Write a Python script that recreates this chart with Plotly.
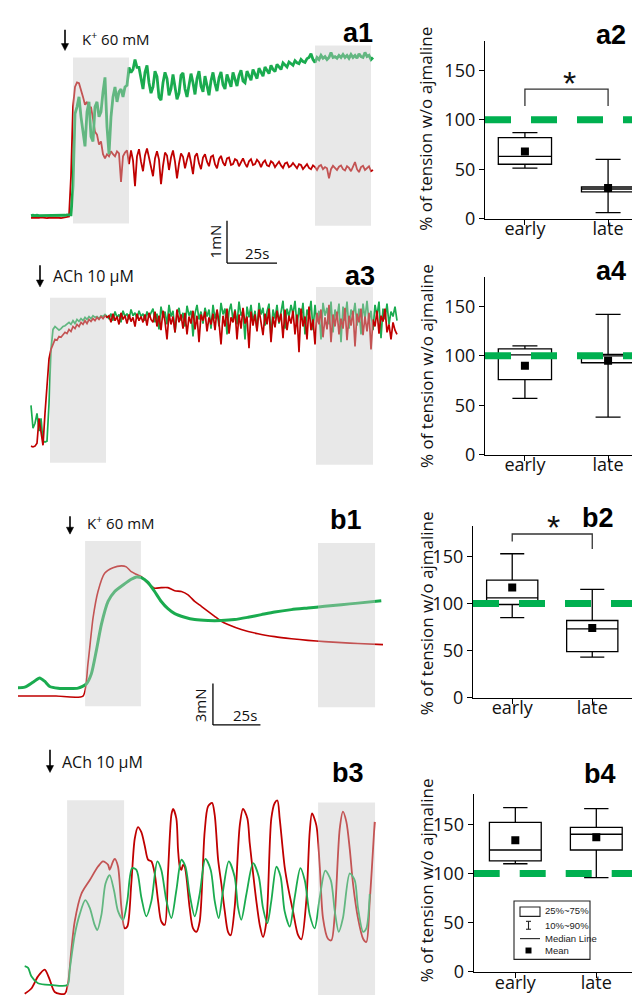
import numpy as np
import plotly.graph_objects as go

W, H = 640, 998
RED = "#c00000"
GREEN = "#1aab4f"
REF_GREEN = "#00b050"
FONT = "Open Sans"
BOLD_FONT = "Liberation Sans"

# ---------------- data: force traces (mN) ----------------
DT = 1.0  # s, sampling of the digitised a1 / a3 traces

A1_GREEN = [
    0.00, 0.01, 0.00, 0.01, 0.00, 0.00, 0.01, 0.00, 0.01, 0.00,
    0.00, 0.01, 0.00, 0.01, 0.00, 0.01, 0.00, 0.01, 0.02, 0.02,
    0.02, 0.71, 2.45, 2.62, 2.86, 2.38, 2.02, 1.67, 2.50, 2.74,
    1.90, 1.79, 2.62, 2.74, 2.38, 2.50, 2.98, 3.33, 2.14, 1.48,
    2.38, 2.86, 3.10, 2.74, 2.98, 3.05, 2.86, 3.10, 3.14, 3.57,
    3.45, 3.52, 3.76, 3.57,
    3.57, 3.30, 3.05, 3.45, 3.62, 3.20, 2.95, 3.10, 3.48, 3.35,
    2.85, 2.78, 3.20, 3.45, 3.30, 2.90, 3.05, 3.40, 3.10, 2.80,
    2.95, 3.38, 3.44, 3.05, 2.86, 3.15, 3.42, 3.20, 2.92, 3.30,
    3.48, 3.12, 2.98, 3.36, 3.10, 2.90, 3.25, 3.45, 3.18, 3.00,
    3.32, 3.46, 3.15, 3.05, 3.40, 3.22, 3.10, 3.45, 3.30, 3.12,
    3.38, 3.50, 3.24, 3.20, 3.48, 3.35, 3.26, 3.52, 3.40, 3.30,
    3.55, 3.44, 3.36, 3.58, 3.50, 3.42, 3.62, 3.52, 3.47, 3.64,
    3.58, 3.52, 3.68, 3.62, 3.58, 3.70, 3.66, 3.62, 3.73, 3.68,
    3.66, 3.76, 3.71, 3.69, 3.78, 3.81,
    3.90, 3.76, 3.69, 3.81, 3.76, 3.86, 3.79, 3.83, 3.76, 3.81,
    3.93, 3.81, 3.83, 3.79, 3.86, 3.81, 3.88, 3.81, 3.86, 3.79,
    3.88, 3.81, 3.86, 3.79, 3.90, 3.83, 3.81, 3.93, 3.83, 3.86,
    3.76, 3.81]

A1_RED = [
    -0.05, -0.05, -0.06, -0.05, -0.05, -0.04, -0.05, -0.05, -0.06, -0.05,
    -0.05, -0.05, -0.04, -0.05, -0.05, -0.06, -0.05, -0.05, -0.04, -0.02,
    0.95, 2.62, 3.10, 3.21, 3.19, 3.05, 2.86, 2.67, 2.74, 2.57,
    2.62, 2.33, 2.02, 1.95, 1.71, 1.79, 1.48, 1.38, 1.48, 1.43,
    1.55, 1.48, 1.43, 1.55, 1.50, 0.81, 1.43, 1.52, 1.57, 1.24,
    1.57, 1.33, 0.71,
    1.43, 1.60, 1.30, 1.07, 1.45, 1.62, 1.40, 1.19, 0.95, 1.38,
    1.55, 1.35, 0.76, 1.20, 1.52, 1.45, 1.10, 1.40, 1.57, 1.30,
    0.90, 1.25, 1.50, 1.42, 1.14, 1.35, 1.52, 1.28, 1.00, 1.43,
    1.50, 1.26, 1.12, 1.40, 1.48, 1.30, 1.19, 1.42, 1.45, 1.24,
    1.14, 1.36, 1.44, 1.28, 1.20, 1.38, 1.40, 1.22, 1.24, 1.36,
    1.33, 1.19, 1.30, 1.38, 1.26, 1.17, 1.31, 1.36, 1.22, 1.24,
    1.35, 1.29, 1.17, 1.28, 1.33, 1.21, 1.19, 1.31, 1.27, 1.17,
    1.24, 1.30, 1.21, 1.15, 1.26, 1.28, 1.17, 1.20, 1.27, 1.19,
    1.14, 1.24, 1.22, 1.12, 1.19, 1.24, 1.15, 1.12, 1.21, 1.17,
    1.10, 1.19, 1.22, 1.12, 1.17, 1.14, 0.90, 1.12, 1.20, 1.16,
    1.10, 1.18, 1.21, 1.12, 1.09, 1.19, 1.15, 1.07, 1.17, 1.29,
    1.12, 1.05, 1.17, 1.20, 1.10, 1.14, 1.19, 1.07, 1.10]

A3_RED = [
    0.00, -0.02, 0.00, 0.07, 0.67, 0.31, 0.02, 0.79, 1.50, 2.10,
    2.33, 2.45, 2.57, 2.55, 2.64, 2.62, 2.69, 2.74, 2.71, 2.81,
    2.76, 2.88, 2.83, 2.93, 2.88, 2.98, 2.93, 3.02, 2.95, 3.05,
    3.00, 3.07, 3.02, 3.10, 3.05, 3.12, 3.07, 3.14, 3.10,
    3.14, 2.98, 3.19, 3.02, 3.12, 2.93, 3.21, 3.05, 3.14, 2.95,
    3.17, 3.00, 3.10, 2.88, 3.19, 3.02, 3.12, 2.98, 3.17, 2.90,
    3.21, 3.05,
    2.98, 3.24, 2.88, 3.14, 2.79, 3.26, 3.00, 2.57, 3.19, 2.93,
    3.12, 2.74, 3.29, 2.98, 3.17, 2.83, 3.21, 2.69, 3.12, 2.95,
    3.26, 2.81, 3.14, 2.50, 3.17, 3.02, 3.24, 2.76, 3.10, 2.93,
    3.19, 2.79, 3.29, 2.98, 2.45, 3.14, 2.88, 3.31, 2.71, 3.10,
    2.98, 3.26, 2.57, 3.17, 2.83, 3.33, 2.95, 3.12, 2.36, 3.24,
    2.90, 3.17, 2.76, 3.29, 3.00, 2.67, 3.19, 2.93, 3.31, 2.50,
    3.12, 2.86, 3.26, 2.98, 3.19, 2.60, 3.29, 2.79, 3.14, 2.95,
    3.26, 2.69, 3.17, 2.26, 3.31, 2.88, 3.12, 2.57, 3.36, 2.79,
    3.05, 2.45, 3.21, 2.93, 3.29, 2.62, 3.10, 2.81, 3.40, 2.50,
    3.17, 2.88, 3.24, 2.69, 3.07, 2.83, 3.33, 2.55, 3.14, 2.90,
    3.26, 2.40, 3.19, 2.98, 3.31, 2.67, 3.12, 2.76, 3.21, 2.33,
    3.05, 2.88, 3.26, 2.71, 3.14, 3.00, 3.31, 2.74, 2.93, 2.57,
    2.98, 2.79, 2.69]

A3_GREEN = [
    0.98, 0.43, 0.55, 0.79, 0.36, 0.67, 0.12, 0.10, 0.12, 1.02,
    2.33, 2.81, 2.88, 2.83, 2.79, 2.83, 2.88, 2.90, 2.93, 2.98,
    2.93, 3.02, 2.95, 3.05, 3.00, 3.07, 3.02, 3.10, 3.05, 3.12,
    3.07, 3.14, 3.10, 3.12, 3.07, 3.14, 3.12, 3.17, 3.12,
    3.07, 3.19, 3.02, 3.24, 3.10, 3.17, 2.98, 3.26, 3.12, 3.19,
    3.05, 3.29, 3.14, 3.21, 3.07, 3.26, 3.12, 3.19, 3.02, 3.24,
    3.10, 3.21,
    3.31, 2.98, 3.19, 2.81, 3.36, 3.10, 3.24, 2.93, 3.40, 3.12,
    3.26, 2.74, 3.17, 3.33, 3.02, 3.21, 2.88, 3.38, 3.14, 3.26,
    2.64, 3.19, 3.40, 3.05, 3.24, 2.95, 3.33, 3.12, 3.29, 2.83,
    3.40, 3.07, 3.26, 2.88, 3.45, 3.17, 3.31, 2.69, 3.24, 3.43,
    3.02, 3.29, 2.93, 3.48, 3.14, 3.26, 2.57, 3.36, 3.10, 3.40,
    2.98, 3.26, 2.79, 3.45, 3.17, 3.33, 2.90, 3.24, 3.43, 2.62,
    3.29, 3.07, 3.40, 2.95, 3.21, 3.50, 2.83, 3.31, 3.12, 3.40,
    3.17, 3.50, 2.88, 3.33, 3.05, 3.45, 2.69, 3.29, 3.12, 3.50,
    2.79, 3.40, 2.98, 3.26, 2.57, 3.45, 3.14, 3.33, 2.93, 3.48,
    2.74, 3.29, 3.07, 3.43, 2.50, 3.36, 3.02, 3.48, 2.83, 3.29,
    3.12, 3.45, 2.90, 3.31, 2.69, 3.43, 3.07, 3.50, 2.98, 3.26,
    2.79, 3.40, 3.14, 3.48, 2.60, 3.31, 3.05, 3.43, 2.93, 3.24,
    3.12, 3.36, 3.02]

B1_RED_T = [0, 20.0, 34.2, 36.8, 39.5, 42.1, 45.6, 50.0, 54.4, 57.0, 59.6,
            62.3, 64.9, 68.4, 71.9, 75.4, 78.9, 82.5, 86.0, 89.5, 93.0,
            96.5, 100.0, 103.5, 107.0, 110.5, 117.5, 126.3, 135.1, 143.9,
            152.6, 161.4, 170.2, 178.9, 192.1]
B1_RED = [0.00, 0.00, 0.00, 2.31, 5.64, 7.55, 8.86, 9.26, 9.40, 9.33, 8.98,
          8.79, 8.62, 8.14, 7.79, 7.83, 7.83, 7.60, 7.55, 7.31, 6.83,
          6.48, 6.12, 5.76, 5.40, 5.17, 4.81, 4.50, 4.29, 4.14,
          4.02, 3.93, 3.86, 3.79, 3.71]
B1_GREEN_T = [0, 3.5, 7.9, 11.4, 14.0, 16.7, 21.1, 31.6, 36.0, 38.6,
              41.2, 43.9, 47.4, 50.9, 55.3, 59.6, 62.3, 64.9, 68.4, 71.9,
              75.4, 78.9, 82.5, 87.7, 93.0, 100.0, 107.0, 114.0, 121.1, 128.1,
              135.1, 143.9, 152.6, 161.4, 170.2, 178.9, 191.2]
B1_GREEN = [0.60, 0.64, 1.00, 1.31, 1.07, 0.69, 0.57, 0.57, 0.88, 1.60,
            3.26, 5.17, 6.83, 7.55, 8.02, 8.43, 8.60, 8.55, 8.21, 7.55,
            6.83, 6.31, 5.95, 5.69, 5.52, 5.45, 5.45, 5.52, 5.69, 5.88,
            6.07, 6.24, 6.36, 6.48, 6.60, 6.71, 6.88]

B3_RED_T = [0, 3.5, 7.0, 10.5, 13.2, 15.8, 21.1, 22.8, 24.6, 26.3,
            29.8, 34.2, 38.6, 41.2, 43.9, 44.7, 46.5, 47.4, 49.1, 50.9,
            52.6, 54.0, 56.1, 57.9, 59.6, 61.4, 63.2, 64.9, 66.7, 68.4,
            70.2, 71.9, 73.7, 75.4, 77.2, 78.1, 79.8, 80.7, 81.6, 82.5,
            83.3, 84.2, 86.8, 88.6, 90.4, 92.1, 94.7, 96.5, 98.6, 100.0,
            101.8, 103.5, 105.3, 107.0, 108.4, 110.5, 113.2, 114.9, 117.2, 118.4,
            120.2, 121.9, 123.7, 125.4, 127.2, 129.8, 131.6, 133.0, 134.2, 136.8,
            138.6, 141.2, 143.9, 145.6, 148.2, 150.0, 151.2, 153.5, 155.3, 157.0,
            159.6, 161.4, 163.2, 165.8, 167.5, 169.3, 171.1, 172.8, 175.4, 178.1,
            179.8, 181.6, 184.2]
B3_RED = [-0.60, -0.24, 0.60, 1.07, 0.36, -0.48, -0.60, 0.12, 2.50, 4.40,
          6.31, 7.26, 8.21, 8.57, 8.33, 7.98, 8.57, 8.74, 8.21, 5.36,
          3.93, 4.05, 7.02, 10.12, 10.95, 10.60, 9.64, 8.69, 8.57, 7.74,
          5.83, 4.40, 4.17, 7.74, 11.79, 12.21, 11.55, 9.40, 8.21, 7.98,
          8.33, 8.21, 5.36, 3.93, 3.69, 4.40, 10.60, 12.38, 12.62, 11.79,
          8.69, 7.02, 5.12, 3.69, 3.45, 5.36, 11.07, 12.21, 11.55, 9.88,
          7.74, 5.83, 4.17, 3.33, 4.40, 11.55, 12.62, 12.79, 11.55, 8.21,
          6.79, 5.12, 3.45, 3.17, 5.83, 10.60, 11.90, 11.07, 8.21, 4.64,
          3.21, 3.10, 4.88, 10.83, 12.02, 11.31, 9.40, 7.02, 4.64, 3.21,
          2.98, 5.83, 11.31]
B3_GREEN_T = [0, 1.8, 3.5, 7.0, 14.0, 22.5, 23.7, 26.3, 28.9, 31.9,
              34.2, 36.8, 38.2, 40.4, 42.5, 44.7, 47.0, 49.1, 51.8, 54.0,
              56.5, 58.8, 61.4, 64.0, 66.7, 69.8, 71.9, 74.6, 77.2, 79.8,
              82.5, 84.6, 86.8, 89.5, 92.1, 95.1, 97.9, 100.0, 102.1, 104.4,
              107.4, 110.5, 112.3, 114.0, 116.7, 120.2, 123.2, 125.4, 127.7, 129.8,
              132.5, 134.7, 136.8, 139.5, 142.1, 145.1, 147.4, 150.0, 152.6, 155.3,
              158.2, 161.1, 163.2, 165.3, 167.5, 171.1, 173.7, 175.4, 178.1, 179.8,
              181.6]
B3_GREEN = [1.31, 1.19, 0.60, 0.12, 0.00, 0.00, 1.07, 3.45, 4.88, 5.88,
            5.36, 4.17, 3.81, 4.88, 7.02, 7.62, 6.55, 5.12, 4.52, 5.83,
            8.10, 7.98, 6.07, 4.76, 5.83, 8.57, 7.98, 5.83, 4.64, 6.55,
            8.69, 8.21, 6.31, 4.76, 6.31, 8.74, 7.98, 5.83, 4.64, 6.55,
            8.57, 7.50, 5.36, 4.52, 6.31, 8.45, 7.50, 5.36, 4.29, 5.83,
            8.21, 7.50, 5.12, 4.05, 6.07, 8.10, 7.26, 4.88, 3.93, 6.07,
            7.93, 7.26, 5.12, 3.69, 4.64, 7.74, 7.26, 5.36, 3.69, 3.93,
            6.31]

# ---------------- data: box statistics (% of tension w/o ajmaline) ----------------
CATS = ["early", "late"]
REF_LEVEL = 100
Y_TICKS = [0, 50, 100, 150]

A2_LO, A2_Q1, A2_MED, A2_Q3, A2_HI, A2_MEAN = [51, 6], [55, 27], [63, 30], [82, 32], [87, 60], [68, 31]
A4_LO, A4_Q1, A4_MED, A4_Q3, A4_HI, A4_MEAN = [57, 38], [76, 93], [101, 100], [107, 101.5], [110, 142], [90, 95]
B2_LO, B2_Q1, B2_MED, B2_Q3, B2_HI, B2_MEAN = [85, 43], [99, 49], [106, 73], [125, 82], [153, 115], [117, 74]
B4_LO, B4_Q1, B4_MED, B4_Q3, B4_HI, B4_MEAN = [110, 96], [113, 124], [124, 140], [152, 147], [167, 166], [134, 137]

LEGEND_ITEMS = ["25%~75%", "10%~90%", "Median Line", "Mean"]


def PX(x):
    return x / W


def PY(y):
    return 1 - y / H


fig = go.Figure()

# ---------------- left panels: traces ----------------
fig.add_trace(go.Scatter(x=np.arange(len(A1_RED)) * DT, y=A1_RED, mode="lines",
                         line=dict(color=RED, width=1.8), xaxis="x", yaxis="y"))
fig.add_trace(go.Scatter(x=np.arange(len(A1_GREEN)) * DT, y=A1_GREEN, mode="lines",
                         line=dict(color=GREEN, width=2.8), xaxis="x", yaxis="y"))

fig.add_trace(go.Scatter(x=np.arange(len(A3_GREEN)) * DT, y=A3_GREEN, mode="lines",
                         line=dict(color=GREEN, width=1.7), xaxis="x3", yaxis="y3"))
fig.add_trace(go.Scatter(x=np.arange(len(A3_RED)) * DT, y=A3_RED, mode="lines",
                         line=dict(color=RED, width=1.7), xaxis="x3", yaxis="y3"))

fig.add_trace(go.Scatter(x=B1_RED_T, y=B1_RED, mode="lines",
                         line=dict(color=RED, width=1.6, shape="spline", smoothing=0.6),
                         xaxis="x5", yaxis="y5"))
fig.add_trace(go.Scatter(x=B1_GREEN_T, y=B1_GREEN, mode="lines",
                         line=dict(color=GREEN, width=3, shape="spline", smoothing=0.6),
                         xaxis="x5", yaxis="y5"))

fig.add_trace(go.Scatter(x=B3_RED_T, y=B3_RED, mode="lines",
                         line=dict(color=RED, width=1.8, shape="spline", smoothing=0.8),
                         xaxis="x7", yaxis="y7"))
fig.add_trace(go.Scatter(x=B3_GREEN_T, y=B3_GREEN, mode="lines",
                         line=dict(color=GREEN, width=1.8, shape="spline", smoothing=0.8),
                         xaxis="x7", yaxis="y7"))

# ---------------- right panels: box plots ----------------
box_sets = [
    ("x2", "y2", A2_LO, A2_Q1, A2_MED, A2_Q3, A2_HI, A2_MEAN, (-0.48, 1.48)),
    ("x4", "y4", A4_LO, A4_Q1, A4_MED, A4_Q3, A4_HI, A4_MEAN, (-0.48, 1.48)),
    ("x6", "y6", B2_LO, B2_Q1, B2_MED, B2_Q3, B2_HI, B2_MEAN, (-0.49, 1.534)),
    ("x8", "y8", B4_LO, B4_Q1, B4_MED, B4_Q3, B4_HI, B4_MEAN, (-0.514, 1.515)),
]
for xa, ya, lo, q1, med, q3, hi, mean, xr in box_sets:
    fig.add_trace(go.Box(x=[0, 1], lowerfence=lo, q1=q1, median=med, q3=q3, upperfence=hi,
                         width=0.64, whiskerwidth=0.47, fillcolor="white", boxpoints=False,
                         line=dict(color="black", width=1.3), xaxis=xa, yaxis=ya))
    fig.add_trace(go.Scatter(x=list(xr), y=[REF_LEVEL, REF_LEVEL], mode="lines",
                             line=dict(color=REF_GREEN, width=7, dash="26px,20px"),
                             xaxis=xa, yaxis=ya, cliponaxis=False))
    fig.add_trace(go.Scatter(x=[0, 1], y=mean, mode="markers",
                             marker=dict(symbol="square", size=8, color="black"),
                             xaxis=xa, yaxis=ya))

# significance brackets
fig.add_trace(go.Scatter(x=[0, 0, 1, 1], y=[114, 131, 131, 114], mode="lines",
                         line=dict(color="#333", width=1.3), xaxis="x2", yaxis="y2"))
fig.add_trace(go.Scatter(x=[0, 0, 1, 1], y=[166, 174, 174, 158], mode="lines",
                         line=dict(color="#333", width=1.3), xaxis="x6", yaxis="y6", cliponaxis=False))

# ---------------- axes ----------------
hidden = dict(visible=False, showgrid=False, zeroline=False)
layout = dict(
    width=W, height=H, margin=dict(l=0, r=0, t=0, b=0),
    paper_bgcolor="white", plot_bgcolor="rgba(0,0,0,0)", showlegend=False,
    font=dict(family=FONT, color="#111"),
    xaxis=dict(domain=[0, PX(400)], range=[-11.5, 188.5], **hidden),
    yaxis=dict(domain=[PY(262), PY(0)], range=[-1.238, 5.0], **hidden),
    xaxis3=dict(domain=[0, PX(400)], range=[-11.5, 188.5], anchor="y3", **hidden),
    yaxis3=dict(domain=[PY(480), PY(262)], range=[-0.881, 4.31], anchor="x3", **hidden),
    xaxis5=dict(domain=[0, PX(400)], range=[-5.263, 205.263], anchor="y5", **hidden),
    yaxis5=dict(domain=[PY(750), PY(490)], range=[-3.879, 14.693], anchor="x5", **hidden),
    xaxis7=dict(domain=[0, PX(400)], range=[-8.789, 201.737], anchor="y7", **hidden),
    yaxis7=dict(domain=[PY(998), PY(750)], range=[-0.693, 16.31], anchor="x7", **hidden),
)


def box_axes(n, xdom, ydom, xr, yr):
    layout[f"xaxis{n}"] = dict(domain=[PX(xdom[0]), PX(xdom[1])], range=list(xr), anchor=f"y{n}",
                               tickvals=[0, 1], ticktext=CATS, showline=True, linecolor="black",
                               linewidth=1.3, ticks="outside", ticklen=5, tickcolor="black",
                               ticklabelstandoff=-11,
                               tickfont=dict(size=18, family=FONT, color="#111"),
                               showgrid=False, zeroline=False)
    layout[f"yaxis{n}"] = dict(domain=[PY(ydom[1]), PY(ydom[0])], range=list(yr), anchor=f"x{n}",
                               tickvals=Y_TICKS, showline=True, linecolor="black", linewidth=1.3,
                               ticks="outside", ticklen=5, tickcolor="black",
                               tickfont=dict(size=18, family=FONT, color="#111"),
                               showgrid=False, zeroline=False)


box_axes(2, (477, 640), (33, 213), (-0.48, 1.48), (0, 180))
box_axes(4, (477, 640), (271.7, 451.7), (-0.48, 1.48), (0, 180))
box_axes(6, (465, 627), (523.3, 697.3), (-0.49, 1.534), (0, 183))
box_axes(8, (465.7, 630), (794.7, 974.7), (-0.514, 1.515), (0, 181))

# ---------------- shapes: gray windows, scale bars, arrows, legend ----------------
GRAY = "rgba(200,200,200,0.42)"
shapes = []


def win(xref, yref, x0, x1, y0, y1):
    shapes.append(dict(type="rect", xref=xref, yref=yref, x0=x0, x1=x1, y0=y0, y1=y1,
                       fillcolor=GRAY, line=dict(width=0), layer="above"))


win("x", "y", 21, 49, -0.19, 3.81)
win("x", "y", 142, 170, -0.24, 4.10)
win("x3", "y3", 9.5, 37.5, -0.40, 3.57)
win("x3", "y3", 142.5, 171, -0.45, 3.83)
win("x5", "y5", 35.3, 64.7, -0.74, 11.19)
win("x5", "y5", 157.9, 187.9, -0.81, 11.05)
win("x7", "y7", 22.3, 52.3, -0.69, 12.81)
win("x7", "y7", 154.4, 184.4, -0.69, 12.66)

bar = dict(color="black", width=1.3)
shapes += [
    dict(type="line", xref="x", yref="y", x0=98, x1=98, y0=-0.12, y1=-1.14, line=bar),
    dict(type="line", xref="x", yref="y", x0=98, x1=123, y0=-1.14, y1=-1.14, line=bar),
    dict(type="line", xref="x5", yref="y5", x0=102.6, x1=102.6, y0=0.91, y1=-2.09, line=bar),
    dict(type="line", xref="x5", yref="y5", x0=102.6, x1=127.6, y0=-2.09, y1=-2.09, line=bar),
]


def arrow(x, ytip, ytail):
    shapes.append(dict(type="line", xref="paper", yref="paper", x0=PX(x), x1=PX(x),
                       y0=PY(ytail), y1=PY(ytip - 5), line=dict(color="black", width=1.6)))
    shapes.append(dict(type="path", xref="paper", yref="paper",
                       path=f"M {PX(x - 3.6)},{PY(ytip - 7)} L {PX(x + 3.6)},{PY(ytip - 7)} L {PX(x)},{PY(ytip)} Z",
                       fillcolor="black", line=dict(color="black", width=0.5)))


arrow(57, 43, 22)
arrow(32, 282, 260)
arrow(62, 532, 514)
arrow(42, 773, 750)

# legend box (b4)
lg = dict(color="#222", width=1.1)
shapes += [
    dict(type="rect", xref="paper", yref="paper", x0=PX(506), x1=PX(582), y0=PY(962), y1=PY(903), line=lg, fillcolor="white"),
    dict(type="rect", xref="paper", yref="paper", x0=PX(512), x1=PX(532), y0=PY(918.5), y1=PY(909), line=lg),
    dict(type="line", xref="paper", yref="paper", x0=PX(520.5), x1=PX(520.5), y0=PY(931.5), y1=PY(923.5), line=lg),
    dict(type="line", xref="paper", yref="paper", x0=PX(518), x1=PX(523), y0=PY(931.5), y1=PY(931.5), line=lg),
    dict(type="line", xref="paper", yref="paper", x0=PX(518), x1=PX(523), y0=PY(923.5), y1=PY(923.5), line=lg),
    dict(type="line", xref="paper", yref="paper", x0=PX(512), x1=PX(532), y0=PY(941), y1=PY(941), line=lg),
    dict(type="rect", xref="paper", yref="paper", x0=PX(517.5), x1=PX(523.5), y0=PY(956), y1=PY(950), line=dict(width=0), fillcolor="black"),
]

# ---------------- annotations ----------------
ann = []


def txt(x, y, s, size, bold=False, xanchor="center", angle=0, family=None, color="#111"):
    ann.append(dict(xref="paper", yref="paper", x=PX(x), y=PY(y), text=s, showarrow=False,
                    xanchor=xanchor, yanchor="middle", textangle=angle,
                    font=dict(size=size, family=family or (BOLD_FONT if bold else FONT), color=color)))


for lab, x, y in [("a1", 350, 25), ("a2", 603, 27), ("a3", 352, 271), ("a4", 603, 266),
                  ("b1", 338, 518), ("b2", 590, 516), ("b3", 340, 774), ("b4", 592, 775)]:
    txt(x, y, f"<b>{lab}</b>", 27, bold=True, color="black")

txt(72, 31, "K<sup>+</sup> 60 mM", 15, xanchor="left")
txt(43, 271, "ACh 10 μM", 16, xanchor="left")
txt(77, 520, "K<sup>+</sup> 60 mM", 15, xanchor="left")
txt(52, 762, "ACh 10 μM", 16, xanchor="left")

txt(207, 236, "1mN", 15, angle=-90)
txt(249, 248, "25s", 15)
txt(192, 705, "3mN", 15, angle=-90)
txt(237, 715, "25s", 15)

for yc in [122, 362, 612, 882]:
    txt(418, yc, "% of tension w/o ajmaline", 17, angle=-90)

# asterisks
txt(561, 76, "*", 34, bold=True)
txt(545, 525, "*", 34, bold=True)

for s, yy in zip(LEGEND_ITEMS, [913, 928, 941, 953]):
    txt(535, yy, s, 9.5, xanchor="left", family="Liberation Sans", color="#222")

layout["shapes"] = shapes
layout["annotations"] = ann
fig.update_layout(**layout)
fig.update_traces(hoverinfo="skip")
fig.write_html("out.html")
